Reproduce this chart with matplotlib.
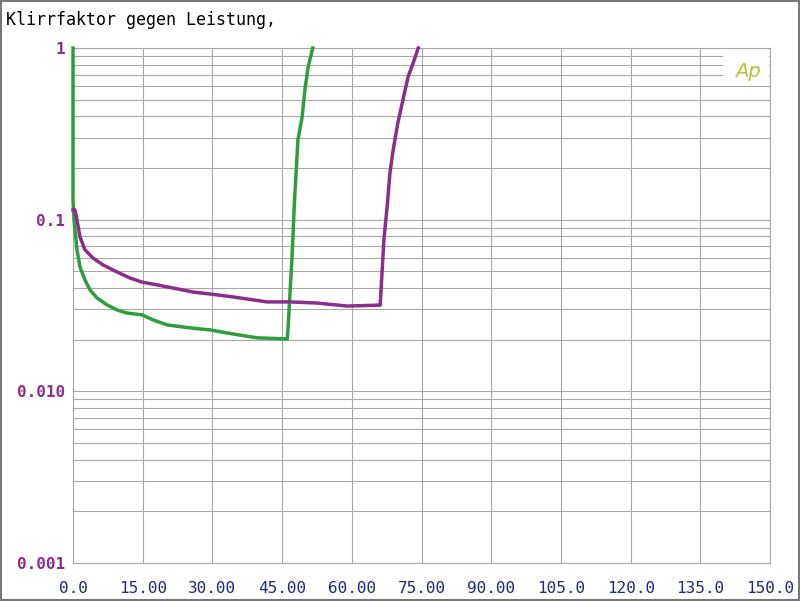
import matplotlib
matplotlib.use("Agg")
import matplotlib.pyplot as plt
from matplotlib.patches import Rectangle
from matplotlib.ticker import FixedLocator, LogLocator, NullFormatter

green_x = [0.0, 0.0, 0.22, 0.86, 1.51, 2.58, 3.66, 5.16, 7.32, 9.47, 11.6, 14.85,
           17.2, 20.2, 23.7, 27.3, 29.5, 34.4, 39.6, 46.1, 46.3, 46.7, 47.1, 47.3,
           47.6, 48.0, 48.4, 49.3, 49.9, 50.6, 51.6]
green_y = [1.0, 0.130, 0.0995, 0.0667, 0.0530, 0.0445, 0.0390, 0.0350, 0.0319,
           0.0298, 0.0286, 0.0279, 0.0261, 0.0244, 0.0237, 0.0231, 0.0228, 0.0216,
           0.0205, 0.0202, 0.0237, 0.0374, 0.0583, 0.0762, 0.1186, 0.187, 0.291,
           0.396, 0.569, 0.775, 1.0]

purple_x = [0.0, 0.43, 0.86, 1.51, 2.58, 4.30, 6.46, 9.47, 12.3, 14.85, 18.1, 21.5,
            25.8, 29.5, 34.4, 41.7, 46.7, 52.5, 59.0, 66.1, 66.5, 66.9, 67.6, 68.2,
            68.9, 69.9, 71.0, 72.1, 73.2, 74.3]
purple_y = [0.114, 0.114, 0.0995, 0.0793, 0.0667, 0.0598, 0.0545, 0.0496, 0.0457,
            0.0433, 0.0417, 0.0400, 0.0379, 0.0369, 0.0355, 0.0332, 0.0332, 0.0327,
            0.0314, 0.0318, 0.0489, 0.0762, 0.1186, 0.187, 0.255, 0.366, 0.498,
            0.678, 0.818, 1.0]

x_ticks = [0, 15, 30, 45, 60, 75, 90, 105, 120, 135, 150]
x_labels = ["0.0", "15.00", "30.00", "45.00", "60.00", "75.00", "90.00",
            "105.0", "120.0", "135.0", "150.0"]
y_ticks = [0.001, 0.01, 0.1, 1]
y_labels = ["0.001", "0.010", "0.1", "1"]

grid_col = "#a8a8a8"
green = "#2e9e3a"
purple = "#8a2d8c"
navy = "#1f2a78"

fig = plt.figure(figsize=(8, 6.01), dpi=100)
ax = fig.add_axes([0.09125, 0.0632, 0.8713, 0.8569])

ax.plot(green_x, green_y, color=green, lw=2.5, clip_on=False, zorder=3)
ax.plot(purple_x, purple_y, color=purple, lw=2.5, clip_on=False, zorder=3)

ax.set_yscale("log")
ax.set_xlim(0, 150)
ax.set_ylim(0.001, 1)

ax.xaxis.set_major_locator(FixedLocator(x_ticks))
ax.set_xticklabels(x_labels)
ax.yaxis.set_major_locator(FixedLocator(y_ticks))
ax.set_yticklabels(y_labels)
ax.yaxis.set_minor_locator(LogLocator(base=10, subs=range(2, 10)))
ax.yaxis.set_minor_formatter(NullFormatter())

ax.grid(True, which="both", color=grid_col, lw=0.8)
ax.set_axisbelow(True)
for s in ax.spines.values():
    s.set_color(grid_col)
    s.set_linewidth(0.8)

ax.tick_params(which="both", length=0)
ax.tick_params(axis="x", pad=13, labelsize=11.5, labelcolor=navy)
ax.tick_params(axis="y", pad=6, labelsize=11.5, labelcolor=purple)
for lab in ax.get_xticklabels():
    lab.set_fontfamily("DejaVu Sans Mono")
for lab in ax.get_yticklabels():
    lab.set_fontfamily("DejaVu Sans Mono")
    lab.set_fontweight("bold")

fig.text(0.007, 0.966, "Klirrfaktor gegen Leistung,", family="DejaVu Sans Mono",
         fontsize=12, color="black", va="center", ha="left")

# Ap logo: weisses Feld unter den Rahmenlinien, Text darauf
ax.add_patch(Rectangle((0.9326, 0.94), 0.066, 0.057, transform=ax.transAxes,
                       fc="white", ec="none", zorder=1))
ax.text(0.968, 0.955, "Ap", transform=ax.transAxes, fontsize=14, color="#b5c03a",
        style="italic", ha="center", va="center", zorder=2)

fig.patches.append(Rectangle((0.001, 0.001), 0.998, 0.997, transform=fig.transFigure,
                             fill=False, ec="#777777", lw=1.5))

plt.savefig("out.png", dpi=100)
